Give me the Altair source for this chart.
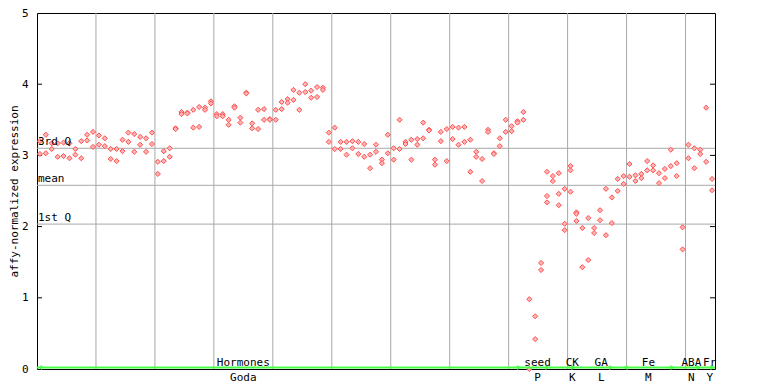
import altair as alt
import pandas as pd

# expression values per sample column (index 0..114)
values_by_column = [
    [3.20, 3.02], [3.29, 3.03], [3.17, 3.09], [3.17, 2.98], [3.18, 2.99],
    [3.17, 2.96], [3.09, 3.01], [3.20, 2.96], [3.29, 3.21], [3.33, 3.12],
    [3.28, 3.15], [3.24, 3.13], [3.09, 2.95], [3.09, 2.92], [3.22, 3.06],
    [3.32, 3.19], [3.30, 3.05], [3.26, 3.15], [3.24, 3.05], [3.32, 3.16],
    [2.91, 2.74], [3.06, 2.92], [3.10, 2.98], [3.38, 3.37], [3.61, 3.58],
    [3.60, 3.59], [3.64, 3.39], [3.68, 3.40], [3.67, 3.64], [3.76, 3.73],
    [3.58, 3.55], [3.58, 3.55], [3.50, 3.43], [3.69, 3.67], [3.53, 3.46],
    [3.88, 3.87], [3.45, 3.38], [3.64, 3.37], [3.65, 3.50], [3.51, 3.50],
    [3.64, 3.50], [3.75, 3.65], [3.79, 3.74], [3.92, 3.78], [3.88, 3.64],
    [4.00, 3.89], [3.91, 3.81], [3.96, 3.82], [3.95, 3.92], [3.32, 3.19],
    [3.39, 3.09], [3.19, 3.09], [3.19, 3.01], [3.20, 3.10], [3.19, 3.02],
    [3.16, 2.98], [3.01, 2.82], [3.15, 3.05], [2.94, 2.89], [3.29, 3.03],
    [3.10, 2.94], [3.50, 3.09], [3.19, 3.16], [3.22, 2.94], [3.23, 3.15],
    [3.46, 3.24], [3.36, 3.35], [2.94, 2.87], [3.33, 3.20], [3.37, 2.92],
    [3.40, 3.23], [3.39, 3.15], [3.40, 3.19], [3.22, 2.77], [3.05, 2.98],
    [2.95, 2.64], [3.36, 3.33], [3.03, 3.02], [3.24, 3.13], [3.50, 3.33],
    [3.41, 3.34], [3.48, 3.46], [3.61, 3.50], [0.98, 0.00], [0.74, 0.42],
    [1.49, 1.39], [2.77, 2.43, 2.34], [2.71, 2.64], [2.75, 2.46, 2.30],
    [2.53, 2.04, 1.95], [2.85, 2.79, 2.49], [2.20, 2.18, 2.08], [1.98, 1.43],
    [2.12, 1.53], [1.98, 1.91], [2.23, 2.09], [2.53, 1.88], [2.41, 2.05],
    [2.67, 2.50], [2.71, 2.60], [2.88, 2.70], [2.72, 2.64], [2.74, 2.68],
    [2.92, 2.79], [2.86, 2.79], [2.75, 2.61], [2.81, 2.68], [3.08, 2.85],
    [2.89, 2.71], [1.99, 1.68], [3.15, 2.96], [3.10, 2.82], [3.08, 3.02],
    [3.67, 2.91], [2.67, 2.51],
]

n_columns = 115
grid_positions = [10, 20, 30, 40, 50, 60, 70, 80, 90, 100, 110]
quartile_names = ["3rd Q", "mean", "1st Q"]
quartile_values = [3.10, 2.58, 2.035]
y_ticks = [1, 2, 3, 4]
y_labels = [0, 1, 2, 3, 4, 5]

top_labels = ["Hormones", "seed", "CK", "GA", "Fe", "ABA", "Fr"]
bottom_labels = ["Goda", "P", "K", "L", "M", "N", "Y"]
label_pos = [35.0, 84.9, 90.8, 95.7, 103.7, 111.0, 114.1]

arrow_right_pos = [81.8, 86.6, 91.0, 97.4, 107.8, 112.2, 114.6]
arrow_left_pos = [0.5, 99.8]

FONT = "DejaVu Sans Mono"
RED = "#ff4f4f"
GREEN = "#44ff44"

rows = []
for i, vals in enumerate(values_by_column):
    for v in vals:
        rows.append({"col": i + 0.5, "value": v})
points_df = pd.DataFrame(rows)

xs = alt.Scale(domain=[0, n_columns], nice=False, zero=False)
ys = alt.Scale(domain=[0, 5], nice=False, zero=True)
YT = "affy-normalized expression"
YAX = alt.Axis(
    values=y_labels, ticks=False, grid=False, domain=False,
    labelFont=FONT, labelFontSize=11, labelColor="black", labelPadding=9,
    titleFont=FONT, titleFontSize=11, titleFontWeight="normal", titleColor="black",
    titleAngle=270, titleX=-23, titleY=178, titleAlign="center", titleBaseline="middle",
)


def Y(field):
    return alt.Y(field, scale=ys, axis=YAX, title=YT)


def X(field):
    return alt.X(field, scale=xs, axis=None)


vgrid = alt.Chart(pd.DataFrame({"g": grid_positions})).mark_rule(
    color="#a8a8a8", strokeWidth=1
).encode(x=X("g:Q"))

qdf = pd.DataFrame({"name": quartile_names, "q": quartile_values, "x0": [0] * 3})
hgrid = alt.Chart(qdf).mark_rule(color="#a8a8a8", strokeWidth=1).encode(y=Y("q:Q"))
qtext = alt.Chart(qdf).mark_text(
    font=FONT, fontSize=11, align="left", baseline="alphabetic", dx=1, dy=-3, color="black"
).encode(x=X("x0:Q"), y=Y("q:Q"), text="name:N")

tdf = pd.DataFrame({"t": y_ticks, "x0": [0] * 4, "x1": [0.85] * 4,
                    "r0": [n_columns - 0.85] * 4, "r1": [n_columns] * 4})
lticks = alt.Chart(tdf).mark_rule(color="black").encode(x=X("x0:Q"), x2="x1:Q", y=Y("t:Q"))
rticks = alt.Chart(tdf).mark_rule(color="black").encode(x=X("r0:Q"), x2="r1:Q", y=Y("t:Q"))

pts = alt.Chart(points_df).mark_point(
    shape="diamond", filled=True, fill="#ffb4b4", stroke=RED, strokeWidth=1,
    size=26, opacity=1,
).encode(x=X("col:Q"), y=Y("value:Q"))

green = alt.Chart(pd.DataFrame({"z": [0]})).mark_rule(
    color=GREEN, strokeWidth=2, yOffset=-1.5
).encode(y=Y("z:Q"))

ar = alt.Chart(pd.DataFrame({"a": arrow_right_pos, "z": [0] * len(arrow_right_pos)})).mark_point(
    shape="triangle-right", filled=True, color=GREEN, size=24, yOffset=-1.5, opacity=1
).encode(x=X("a:Q"), y=Y("z:Q"))
al = alt.Chart(pd.DataFrame({"a": arrow_left_pos, "z": [0] * len(arrow_left_pos)})).mark_point(
    shape="triangle-left", filled=True, color=GREEN, size=24, yOffset=-1.5, opacity=1
).encode(x=X("a:Q"), y=Y("z:Q"))

ldf = pd.DataFrame({"top": top_labels, "bot": bottom_labels, "p": label_pos, "z": [0] * 7})
ttop = alt.Chart(ldf).mark_text(
    font=FONT, fontSize=11, baseline="alphabetic", dy=-3, color="black"
).encode(x=X("p:Q"), y=Y("z:Q"), text="top:N")
tbot = alt.Chart(ldf).mark_text(
    font=FONT, fontSize=11, baseline="top", dy=3, color="black"
).encode(x=X("p:Q"), y=Y("z:Q"), text="bot:N")

chart = alt.layer(
    vgrid, hgrid, lticks, rticks, pts, green, ar, al, qtext, ttop, tbot
).properties(
    width=678, height=356,
    autosize=alt.AutoSizeParams(type="none"),
    padding={"left": 29, "top": 5, "right": 30, "bottom": 14},
    background="white",
).configure_view(stroke="black", strokeWidth=1)

chart.save("out.html", embed_options={"renderer": "svg", "actions": False})
